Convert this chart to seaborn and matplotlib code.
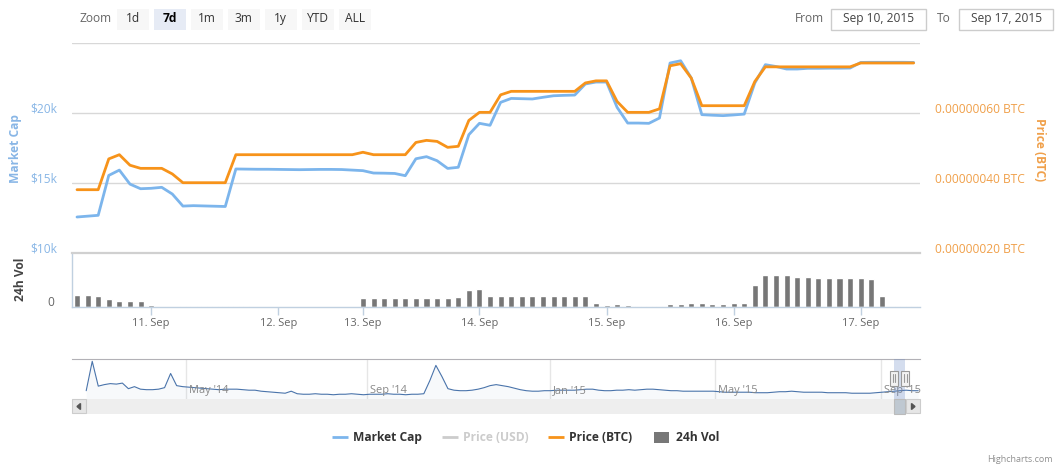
import numpy as np
import pandas as pd
import matplotlib
matplotlib.use("Agg")
import matplotlib.pyplot as plt
import matplotlib.transforms as mtrans
from matplotlib.patches import Rectangle, Polygon
import seaborn as sns

# ------------------------------------------------------------------ data
START = "2015-09-10 10:00"
END = "2015-09-17 10:00"
MISSING = ["2015-09-12 08:00", "2015-09-12 10:00", "2015-09-12 12:00",
           "2015-09-12 14:00", "2015-09-13 12:00"]

market_cap = [12550, 12610, 12670, 15520, 15900, 14900, 14570, 14600, 14670, 14190,
              13330, 13360, 13340, 13320, 13300, 15980, 15970, 15960, 15960, 15950,
              15940, 15930, 15940, 15950, 15950, 15940, 15900, 15860, 15690, 15680,
              15660, 15500, 16710, 16860, 16570, 16020, 16100, 18430, 19240, 19100,
              20740, 21020, 21000, 20980, 21100, 21210, 21240, 21260, 22050, 22190,
              22190, 20380, 19260, 19260, 19240, 19620, 23550, 23710, 22480, 19860,
              19820, 19790, 19840, 19900, 22120, 23430, 23300, 23120, 23120, 23170,
              23170, 23180, 23180, 23190, 23590, 23600, 23600, 23600, 23600, 23590]

price_btc_sat = [38.0, 38.0, 38.0, 46.8, 48.0, 45.0, 44.1, 44.1, 44.1, 42.5,
                 40.0, 40.0, 40.0, 40.0, 40.0, 48.0, 48.0, 48.0, 48.0, 48.0,
                 48.0, 48.0, 48.0, 48.0, 48.0, 48.0, 48.0, 48.7, 48.0, 48.0,
                 48.0, 48.0, 51.5, 52.1, 51.8, 50.1, 50.4, 57.8, 60.1, 60.1,
                 65.1, 66.1, 66.1, 66.1, 66.1, 66.1, 66.1, 66.1, 68.5, 69.1,
                 69.1, 63.2, 60.1, 60.1, 60.1, 61.1, 73.4, 74.0, 69.9, 62.0,
                 62.0, 62.0, 62.0, 62.0, 68.9, 73.1, 73.1, 73.1, 73.1, 73.1,
                 73.1, 73.1, 73.1, 73.1, 74.2, 74.2, 74.2, 74.2, 74.2, 74.2]

volume_usd = [240, 240, 220, 155, 115, 110, 115, 35, 0, 0,
              15, 15, 15, 15, 15, 15, 15, 0, 0, 0,
              0, 0, 0, 0, 0, 0, 0, 170, 170, 170,
              170, 170, 170, 170, 170, 170, 190, 335, 355, 210,
              210, 210, 210, 210, 210, 210, 210, 210, 210, 70,
              30, 50, 30, 12, 12, 12, 52, 52, 70, 70,
              52, 52, 72, 72, 430, 630, 630, 630, 595, 595,
              575, 575, 575, 575, 575, 555, 220, 12, 12, 12]

# navigator: market cap history (thousand USD), Feb 2014 .. Sep 2015
nav_market_cap_k = [20, 78, 29, 32, 34, 33, 35, 24, 28, 23, 22, 22, 23, 26, 54, 30, 28, 27, 26, 25,
                    24, 23, 22, 23, 23, 23, 22, 21, 21, 19, 18, 17, 16, 15, 19, 14, 13,
                    13, 14, 13, 13, 12, 13, 13, 14, 13, 12, 13, 13, 13, 14, 13, 13, 12, 13, 13, 14,
                    40, 70, 48, 24, 21, 20, 20, 21, 23, 26, 30, 32, 30, 28, 25, 22, 20, 19, 19, 20,
                    20, 21, 21, 21, 21, 22, 23, 23, 21, 20, 20, 21, 21, 22, 21, 22, 23, 23, 22, 21,
                    20, 20, 19, 19, 19, 19, 19, 19, 18, 17, 17, 17, 17, 17, 16, 16, 16, 17, 18, 18,
                    19, 18, 17, 17, 17, 17, 16, 16, 16, 16, 15, 15, 15, 15, 16, 17, 18, 19, 20, 21,
                    20, 20]
nav_month_labels = ["May '14", "Sep '14", "Jan '15", "May '15", "Sep '15"]
nav_month_pos = [16.6, 46.65, 76.96, 104.3, 131.9]

left_ticks = [10000, 15000, 20000, 25000]
left_labels = ["$10k", "$15k", "$20k", ""]
right_ticks = [20, 40, 60, 80]
right_labels = ["0.00000020 BTC", "0.00000040 BTC", "0.00000060 BTC", ""]

zoom_buttons = ["1d", "7d", "1m", "3m", "1y", "YTD", "ALL"]
selected_button = "7d"
range_from = "Sep 10, 2015"
range_to = "Sep 17, 2015"
legend_items = ["Market Cap", "Price (USD)", "Price (BTC)", "24h Vol"]

# ------------------------------------------------------------------ style
sns.set_style("white")
plt.rcParams["font.family"] = ["Open Sans", "DejaVu Sans"]

W, H, DPI = 1059, 467, 100
PT = 0.72  # px -> pt at 100 dpi
C_MC = "#7cb5ec"
C_BTC = "#f7931a"
C_VOL = "#777777"
C_GRID = "#d8d8d8"
C_AXIS = "#c0d0e0"

fig = plt.figure(figsize=(W / DPI, H / DPI), dpi=DPI)
fig.patch.set_facecolor("white")


def rect(x0, y0, x1, y1):
    return [x0 / W, 1 - y1 / H, (x1 - x0) / W, (y1 - y0) / H]


def shift_labels(labels, dy_px):
    off = mtrans.ScaledTranslation(0, dy_px / DPI, fig.dpi_scale_trans)
    for lbl in labels:
        lbl.set_transform(lbl.get_transform() + off)


times = pd.date_range(START, END, freq="2h")
times = times[~times.isin(pd.to_datetime(MISSING))]
idx = np.arange(len(times))
day_mask = np.asarray(times.hour == 0)
tick_pos = idx[day_mask]
tick_lab = [f"{t.day}. {t.strftime('%b')}" for t in times[day_mask]]

df = pd.DataFrame({"idx": idx, "mc": market_cap,
                   "btc": price_btc_sat, "vol": volume_usd})
XLIM = (-0.52, 79.6)

# ------------------------------------------------------------------ main pane
ax = fig.add_axes(rect(71.5, 42.7, 920, 252.7))
ax.set_facecolor("none")
ax.set_xlim(*XLIM)
ax.set_ylim(10000, 25000)
for s in ax.spines.values():
    s.set_visible(False)
ax.set_yticks(left_ticks, left_labels)
ax.yaxis.grid(True, color=C_GRID, lw=1)
ax.set_axisbelow(True)
ax.tick_params(axis="y", length=0, pad=14 * PT, labelsize=12 * PT, labelcolor="#88b6e6")
ax.set_xticks([])
shift_labels(ax.get_yticklabels(), 5)
sns.lineplot(data=df, x="idx", y="mc", ax=ax, color=C_MC, lw=2, legend=False)
ax.set_xlabel("")
ax.set_ylabel("")

ax2 = ax.twinx()
ax2.set_ylim(20, 80)
for s in ax2.spines.values():
    s.set_visible(False)
ax2.set_yticks(right_ticks, right_labels)
ax2.tick_params(axis="y", length=0, pad=15 * PT, labelsize=12 * PT, labelcolor="#f0a04a")
shift_labels(ax2.get_yticklabels(), 5)
sns.lineplot(data=df, x="idx", y="btc", ax=ax2, color=C_BTC, lw=2, legend=False)
ax2.set_xlim(*XLIM)
ax2.set_ylabel("")
ax2.set_xlabel("")

fig.text(16 / W, 1 - 149 / H, "Market Cap", rotation=90, ha="center", va="center",
         color="#88b6e6", fontsize=12 * PT, fontweight="bold")
fig.text(1039.6 / W, 1 - 150 / H, "Price (BTC)", rotation=270, ha="center", va="center",
         color="#f0a04a", fontsize=12 * PT, fontweight="bold")

# ------------------------------------------------------------------ volume pane
axv = fig.add_axes(rect(71.5, 252.7, 920, 306.5))
axv.set_facecolor("none")
sns.barplot(data=df, x="idx", y="vol", ax=axv, native_scale=True, color=C_VOL,
            saturation=1, width=0.57, errorbar=None)
axv.set_xlim(*XLIM)
axv.set_ylim(0, 1077)
axv.set_xlabel("")
axv.set_ylabel("")
axv.spines["right"].set_visible(False)
axv.spines["top"].set_color("#d0d0d0")
axv.spines["top"].set_linewidth(1.6)
axv.spines["left"].set_color(C_AXIS)
axv.spines["bottom"].set_color(C_AXIS)
axv.spines["left"].set_linewidth(1)
axv.spines["bottom"].set_linewidth(1)
axv.set_yticks([0], ["0"])
axv.tick_params(axis="y", length=0, pad=17 * PT, labelsize=12 * PT, labelcolor="#666666")
shift_labels(axv.get_yticklabels(), 5)
axv.set_xticks(tick_pos, tick_lab)
axv.tick_params(axis="x", direction="out", length=8 * PT, width=1, color=C_AXIS,
                pad=3.5 * PT, labelsize=11 * PT, labelcolor="#666666", bottom=True)
fig.text(20 / W, 1 - 279 / H, "24h Vol", rotation=90, ha="center", va="center",
         color="#444444", fontsize=12 * PT, fontweight="bold")

# ------------------------------------------------------------------ navigator
axn = fig.add_axes(rect(71.5, 358.6, 920, 399.2))
axn.set_facecolor("none")
nav_idx = np.arange(len(nav_market_cap_k))
axn.set_xlim(-2.44, 138.3)
axn.set_ylim(3.2, 83.4)
for s in axn.spines.values():
    s.set_visible(False)
axn.spines["top"].set_visible(True)
axn.spines["top"].set_color("#b2b1b6")
axn.set_xticks([])
axn.set_yticks([])
for p in nav_month_pos:
    axn.axvline(p, color="#e6e6e6", lw=1, zorder=0)
axn.fill_between(nav_idx, nav_market_cap_k, 3.2, color="#4572a7", alpha=0.04, lw=0)
sns.lineplot(x=nav_idx, y=nav_market_cap_k, ax=axn, color="#4a74ab", lw=0.8, legend=False)
axn.set_xlim(-2.44, 138.3)
off_lab = mtrans.ScaledTranslation(3 / DPI, 0, fig.dpi_scale_trans)
for p, lab in zip(nav_month_pos, nav_month_labels):
    axn.text(p, 0.21, lab, transform=mtrans.blended_transform_factory(axn.transData, axn.transAxes) + off_lab,
             ha="left", va="center", fontsize=11 * PT, color="#888888")

# ------------------------------------------------------------------ overlay (UI)
ov = fig.add_axes([0, 0, 1, 1], zorder=10)
ov.set_xlim(0, W)
ov.set_ylim(H, 0)
ov.axis("off")
ov.patch.set_alpha(0)

# selected range in navigator
ov.add_patch(Rectangle((894.1, 358.6), 11.2, 40.6, facecolor="#6685c2", alpha=0.28, lw=0))
# scrollbar
ov.add_patch(Rectangle((71.5, 399.2), 848.5, 14.5, facecolor="#eeeeee", lw=0))
ov.add_patch(Rectangle((894.1, 399.2), 11.2, 14.5, facecolor="#bfc8d1", edgecolor="#bbbbbb", lw=0.8))
for bx in (72, 906):
    ov.add_patch(Rectangle((bx, 399.4), 13.5, 14, facecolor="#e6e6e6", edgecolor="#cccccc", lw=0.8))
ov.add_patch(Polygon([[80.5, 403.5], [80.5, 409.5], [77, 406.5]], closed=True, color="#555555"))
ov.add_patch(Polygon([[911.5, 403.5], [911.5, 409.5], [915, 406.5]], closed=True, color="#555555"))
# navigator handles
for hx in (894.1, 905.3):
    ov.add_patch(Rectangle((hx - 4, 370.5), 8, 15, facecolor="#f2f2f2", edgecolor="#999999", lw=0.8))
    for dx in (-1.3, 1.3):
        ov.plot([hx + dx, hx + dx], [374, 382], color="#999999", lw=0.8)

# zoom buttons
ov.text(79.4, 18.8, "Zoom", ha="left", va="center", fontsize=12 * PT, color="#666666")
for k, lab in enumerate(zoom_buttons):
    x0 = 117.3 + 36.95 * k
    sel = lab == selected_button
    ov.add_patch(Rectangle((x0, 8.5), 31.5, 21.2, facecolor="#e6ebf5" if sel else "#f7f7f7", lw=0))
    ov.text(x0 + 15.75, 18.8, lab, ha="center", va="center", fontsize=12 * PT,
            color="#000000" if sel else "#333333", fontweight="bold" if sel else "normal")

# range inputs
ov.text(794.4, 18.8, "From", ha="left", va="center", fontsize=12 * PT, color="#666666")
ov.add_patch(Rectangle((830.9, 8.5), 94.6, 21.2, facecolor="white", edgecolor="#cccccc", lw=1))
ov.text(878.2, 18.8, range_from, ha="center", va="center", fontsize=12 * PT, color="#444444")
ov.text(936.7, 18.8, "To", ha="left", va="center", fontsize=12 * PT, color="#666666")
ov.add_patch(Rectangle((959.4, 8.5), 93.9, 21.2, facecolor="white", edgecolor="#cccccc", lw=1))
ov.text(1006.3, 18.8, range_to, ha="center", va="center", fontsize=12 * PT, color="#444444")

# legend
LY = 437.4
leg_specs = [(332.3, C_MC, "#333333", "line"),
             (441.9, "#cccccc", "#cccccc", "line"),
             (547.9, C_BTC, "#333333", "line"),
             (654.4, C_VOL, "#333333", "rect")]
for (sx, scol, tcol, kind), lab in zip(leg_specs, legend_items):
    if kind == "line":
        ov.plot([sx, sx + 16], [LY, LY], color=scol, lw=2, solid_capstyle="butt")
        tx = sx + 21
    else:
        ov.add_patch(Rectangle((sx, LY - 5.5), 15, 11, facecolor=scol, lw=0))
        tx = sx + 21.6
    ov.text(tx, LY, lab, ha="left", va="center", fontsize=12 * PT, color=tcol, fontweight="bold")

# credits
ov.text(1052.3, 460, "Highcharts.com", ha="right", va="center", fontsize=9 * PT, color="#909090")

fig.savefig("out.png", dpi=DPI, facecolor="white")
